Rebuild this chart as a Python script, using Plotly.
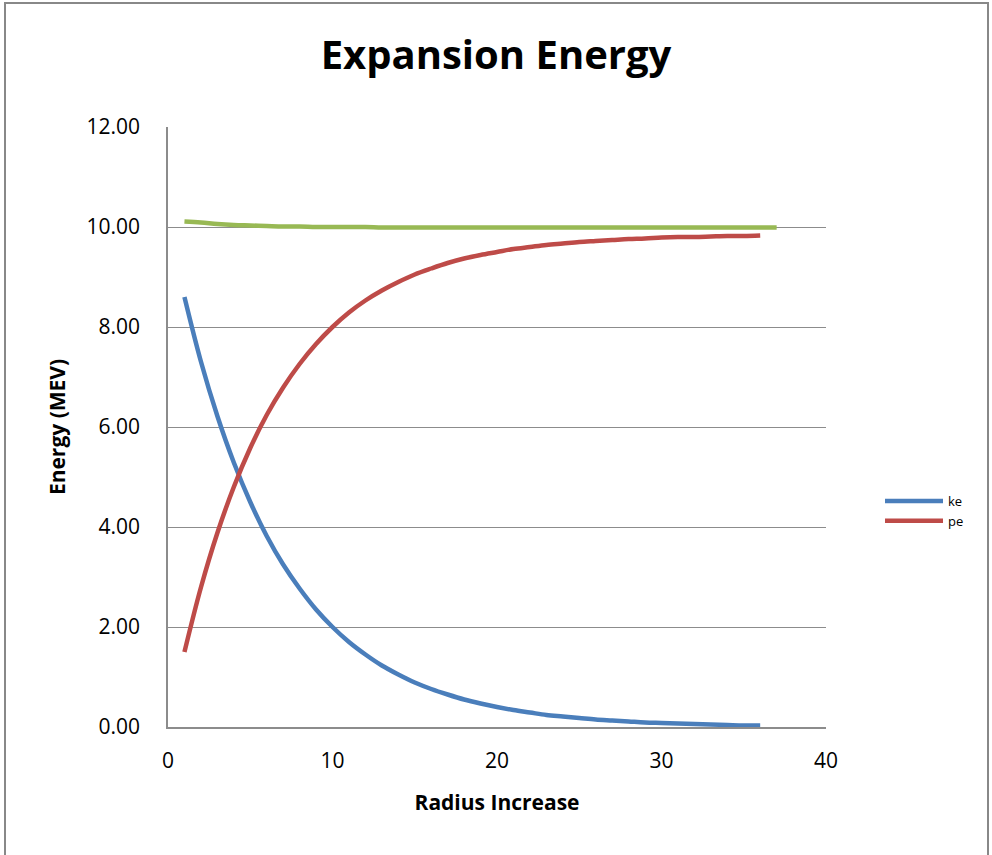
import plotly.graph_objects as go

x_ke_pe = list(range(1, 37))
x_total = list(range(1, 38))

ke = [8.60, 7.31, 6.22, 5.29, 4.50, 3.82, 3.25, 2.77, 2.35, 2.00,
      1.70, 1.45, 1.23, 1.05, 0.89, 0.76, 0.65, 0.55, 0.47, 0.40,
      0.34, 0.29, 0.24, 0.21, 0.18, 0.15, 0.13, 0.11, 0.09, 0.08,
      0.07, 0.06, 0.05, 0.04, 0.03, 0.03]

pe = [1.50, 2.79, 3.88, 4.80, 5.58, 6.24, 6.79, 7.26, 7.66, 8.00,
      8.29, 8.53, 8.73, 8.90, 9.05, 9.17, 9.28, 9.37, 9.44, 9.50,
      9.56, 9.60, 9.64, 9.67, 9.70, 9.72, 9.74, 9.76, 9.77, 9.79,
      9.80, 9.80, 9.81, 9.82, 9.82, 9.83]

total = [10.11, 10.09, 10.06, 10.04, 10.03, 10.02, 10.01, 10.01, 10.00, 10.00,
         10.00, 10.00, 9.99, 9.99, 9.99, 9.99, 9.99, 9.99, 9.99, 9.99,
         9.99, 9.99, 9.99, 9.99, 9.99, 9.99, 9.99, 9.99, 9.99, 9.99,
         9.99, 9.99, 9.99, 9.99, 9.99, 9.99, 9.99]

FONT = "Open Sans"
GRAY = "#8c8c8c"

fig = go.Figure()
fig.add_trace(go.Scatter(x=x_ke_pe, y=ke, mode="lines", name="ke",
                         line=dict(color="#4a7ebb", width=4.5, shape="spline")))
fig.add_trace(go.Scatter(x=x_ke_pe, y=pe, mode="lines", name="pe",
                         line=dict(color="#be4b48", width=4.5, shape="spline")))
fig.add_trace(go.Scatter(x=x_total, y=total, mode="lines", name="total",
                         showlegend=False,
                         line=dict(color="#98b954", width=4.5, shape="spline")))

fig.update_layout(
    width=992, height=855,
    margin=dict(l=168, r=166, t=127, b=128),
    paper_bgcolor="white", plot_bgcolor="white",
    font=dict(family=FONT, color="black"),
    title=dict(text="<b>Expansion Energy</b>", x=0.5, xanchor="center",
               y=1 - 55 / 855, yanchor="middle", yref="container",
               font=dict(size=40, family=FONT, color="black")),
    xaxis=dict(range=[0, 40], dtick=10, tick0=0, showgrid=False, zeroline=False,
               showline=True, linecolor=GRAY, linewidth=1.5, ticks="",
               ticklabelstandoff=14,
               tickfont=dict(size=21, family=FONT),
               title=dict(text="<b>Radius Increase</b>", font=dict(size=21, family=FONT),
                          standoff=22)),
    yaxis=dict(range=[0, 12], dtick=2, tick0=0, tickformat=".2f",
               showgrid=True, gridcolor=GRAY, gridwidth=1.2, zeroline=False,
               showline=True, linecolor=GRAY, linewidth=1.5, ticks="",
               ticklabelstandoff=22,
               tickfont=dict(size=21, family=FONT),
               title=dict(text="<b>Energy (MEV)</b>", font=dict(size=21, family=FONT),
                          standoff=15)),
    legend=dict(x=(880 - 168) / 658, y=(727 - 511) / 600, xanchor="left", yanchor="middle",
                font=dict(size=13, family=FONT), tracegroupgap=0,
                itemwidth=58, bgcolor="rgba(0,0,0,0)"),
    shapes=[dict(type="rect", xref="paper", yref="paper",
                 x0=(5 - 168) / 658, x1=(988 - 168) / 658,
                 y0=(727 - 880) / 600, y1=(727 - 3) / 600,
                 line=dict(color="#888888", width=2), layer="below")],
)

fig.write_html("out.html")
